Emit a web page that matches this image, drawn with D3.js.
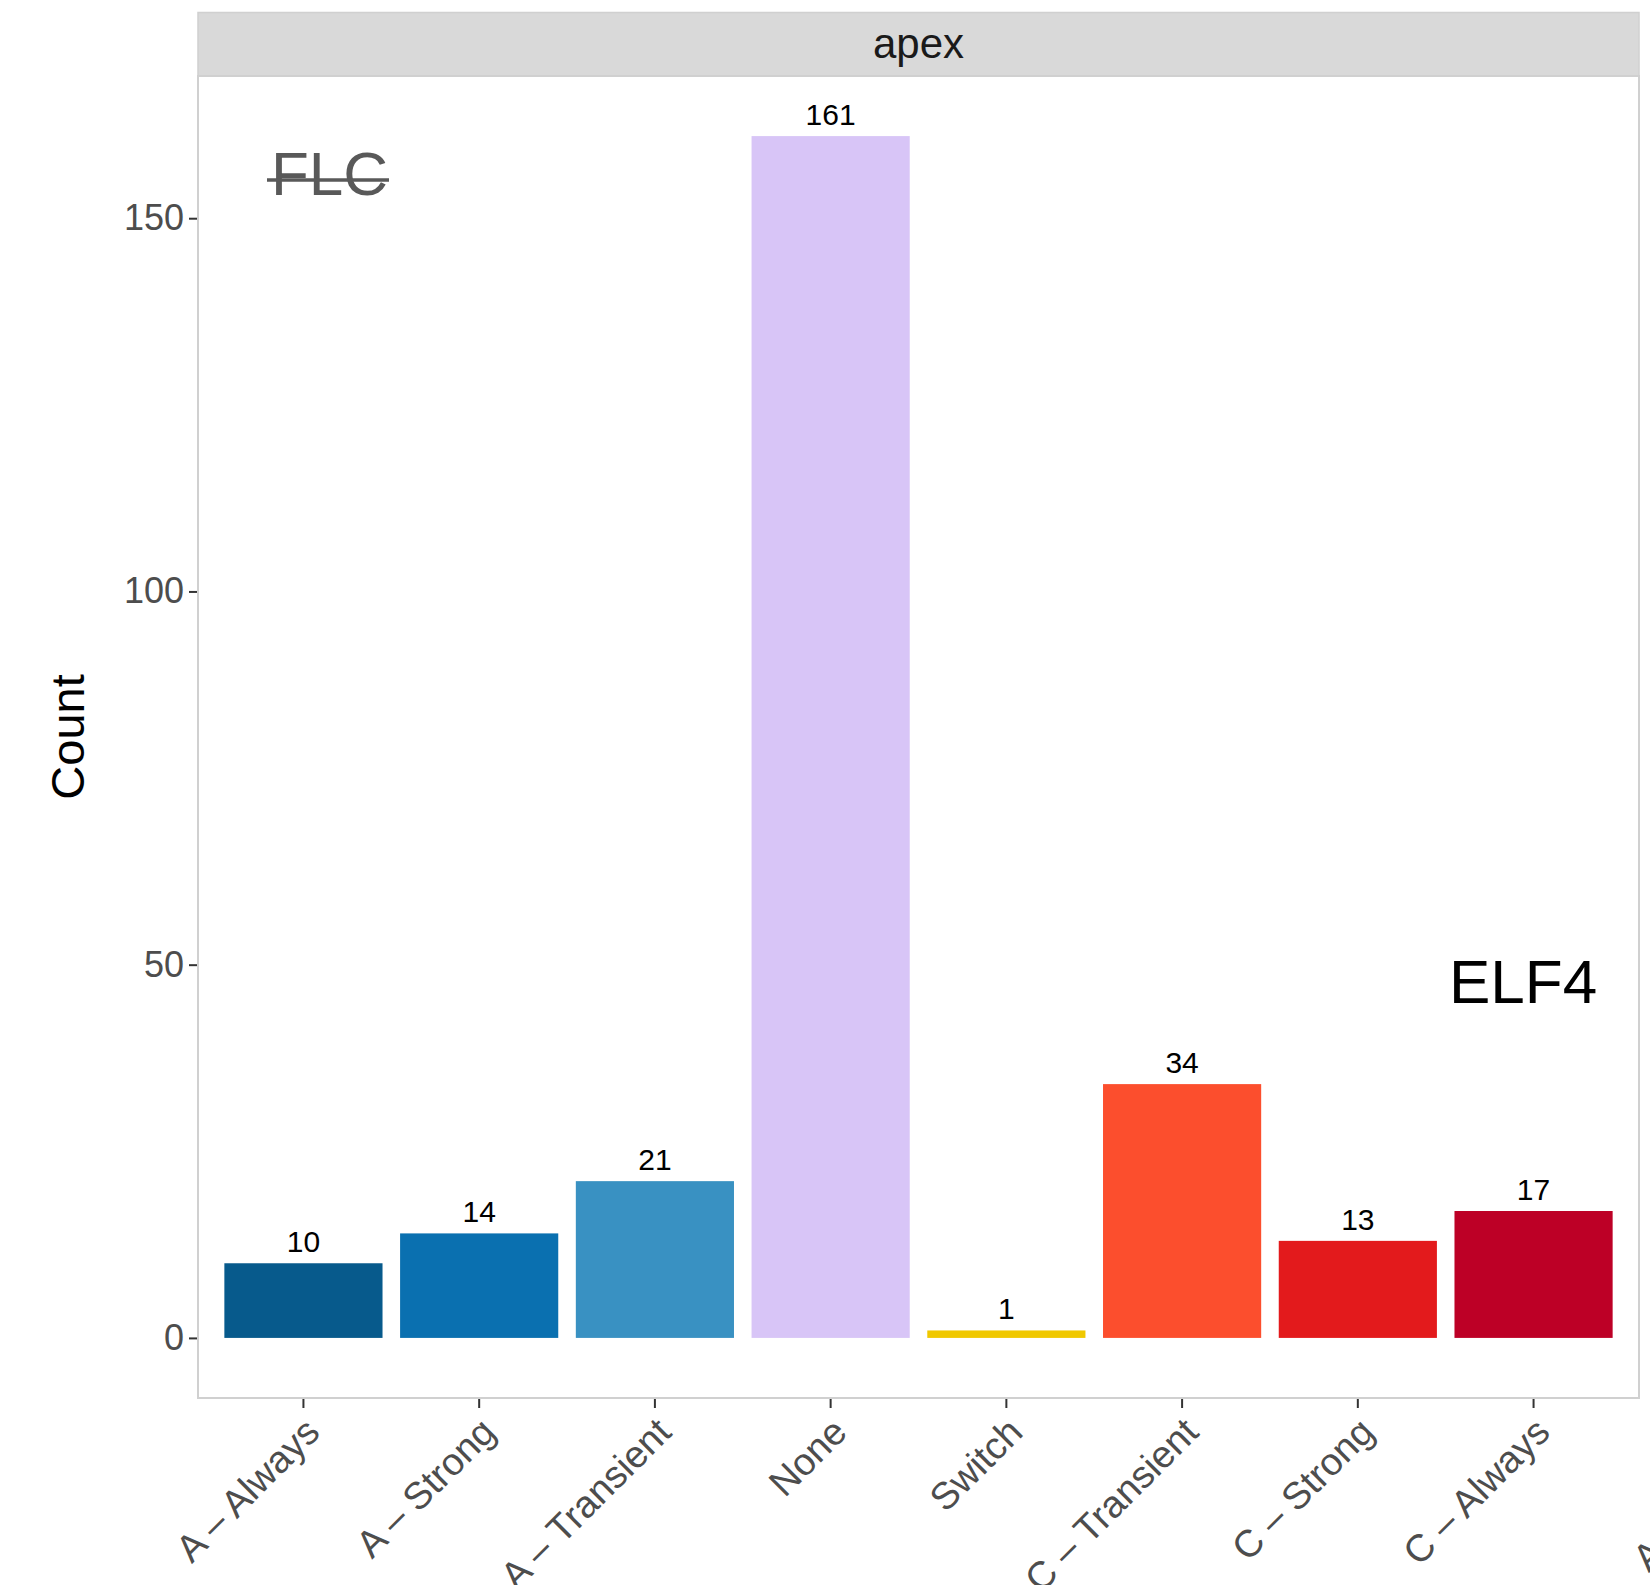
<!DOCTYPE html>
<html>
<head>
<meta charset="utf-8">
<script src="https://cdn.jsdelivr.net/npm/d3@7"></script>
<style>
  html, body { margin: 0; padding: 0; background: #ffffff; }
  svg { display: block; }
  text { font-family: "Liberation Sans", Arial, Helvetica, sans-serif; }
</style>
</head>
<body>
<svg id="chart" width="1650" height="1585"></svg>
<script>
// Response classes and how many genes fall into each (apex facet)
const categories = ["A – Always", "A – Strong", "A – Transient", "None", "Switch", "C – Transient", "C – Strong", "C – Always"];
const counts = [10, 14, 21, 161, 1, 34, 13, 17];
const barColors = ["#075a8c", "#0a70b0", "#3991c2", "#d8c5f7", "#f0c800", "#fc4e2d", "#e31a1c", "#bd0026"];
const yTicks = [0, 50, 100, 150];
const facetLabel = "apex";

const W = 1650, H = 1585;
const panel = { left: 198, right: 1639, top: 76, bottom: 1398 };
const strip = { top: 12.5, bottom: 76 };

const svg = d3.select("#chart");

// ggplot-style expansion: 5% on the continuous axis, 0.6 units on the discrete one
const maxVal = d3.max(counts);
const padY = maxVal * 0.05;
const y = d3.scaleLinear()
  .domain([-padY, maxVal + padY])
  .range([panel.bottom, panel.top]);

const x = d3.scaleBand()
  .domain(categories)
  .range([panel.left, panel.right])
  .paddingInner(0.1)
  .paddingOuter(0.15);

const data = categories.map((c, i) => ({ cat: c, value: counts[i], color: barColors[i] }));

// facet strip
svg.append("rect")
  .attr("x", panel.left).attr("y", strip.top)
  .attr("width", panel.right - panel.left).attr("height", strip.bottom - strip.top)
  .attr("fill", "#d9d9d9").attr("stroke", "#d0d0d0").attr("stroke-width", 1.5);
svg.append("text")
  .attr("x", (panel.left + panel.right) / 2).attr("y", 58)
  .attr("text-anchor", "middle")
  .attr("font-size", 42).attr("fill", "#1a1a1a")
  .text(facetLabel);

// panel background
svg.append("rect")
  .attr("x", panel.left).attr("y", panel.top)
  .attr("width", panel.right - panel.left).attr("height", panel.bottom - panel.top)
  .attr("fill", "#ffffff");

// bars
svg.append("g").selectAll("rect")
  .data(data).join("rect")
  .attr("x", d => x(d.cat))
  .attr("width", x.bandwidth())
  .attr("y", d => y(d.value))
  .attr("height", d => y(0) - y(d.value))
  .attr("fill", d => d.color);

// value labels above bars
svg.append("g").selectAll("text")
  .data(data).join("text")
  .attr("x", d => x(d.cat) + x.bandwidth() / 2)
  .attr("y", d => y(d.value) - 11)
  .attr("text-anchor", "middle")
  .attr("font-size", 30).attr("fill", "#000000")
  .text(d => d.value);

// panel border
svg.append("rect")
  .attr("x", panel.left).attr("y", panel.top)
  .attr("width", panel.right - panel.left).attr("height", panel.bottom - panel.top)
  .attr("fill", "none").attr("stroke", "#d0d0d0").attr("stroke-width", 2);

// y axis
const yAxis = d3.axisLeft(y).tickValues(yTicks).tickSize(8).tickPadding(5);
const gy = svg.append("g")
  .attr("transform", `translate(${panel.left - 1},0)`)
  .call(yAxis);
gy.select(".domain").remove();
gy.selectAll(".tick line").attr("stroke", "#333333").attr("stroke-width", 2);
gy.selectAll(".tick text")
  .attr("font-size", 36).attr("fill", "#4d4d4d")
  .attr("font-family", "Liberation Sans, Arial, sans-serif");

// x axis with 45° labels
const labelSize = 38;
const labelShift = "translate(-1,16) rotate(-45)";
const xAxis = d3.axisBottom(x).tickSize(9).tickSizeOuter(0);
const gx = svg.append("g")
  .attr("transform", `translate(0,${panel.bottom + 1})`)
  .call(xAxis);
gx.select(".domain").remove();
gx.selectAll(".tick line").attr("stroke", "#333333").attr("stroke-width", 2);
gx.selectAll(".tick text")
  .attr("font-size", labelSize).attr("fill", "#4d4d4d")
  .attr("font-family", "Liberation Sans, Arial, sans-serif")
  .attr("text-anchor", "end")
  .attr("x", 0).attr("y", 0).attr("dy", "0.72em")
  .attr("transform", labelShift);

// first label of the neighbouring facet, running off the right edge
const nextFacetOffset = 1457;
svg.append("g")
  .attr("transform", `translate(${x(categories[0]) + x.bandwidth() / 2 + nextFacetOffset},${panel.bottom + 1 + 9})`)
  .append("text")
  .attr("transform", labelShift)
  .attr("text-anchor", "end").attr("dy", "0.72em")
  .attr("font-size", labelSize).attr("fill", "#4d4d4d")
  .text(categories[0]);

// y axis title
svg.append("text")
  .attr("transform", `translate(84,${(panel.top + panel.bottom) / 2}) rotate(-90)`)
  .attr("text-anchor", "middle")
  .attr("font-size", 47).attr("fill", "#000000")
  .text("Count");

// gene annotations
const flc = svg.append("g");
flc.append("text")
  .attr("x", 271).attr("y", 195)
  .attr("font-size", 62).attr("fill", "#595959")
  .text("FLC");
flc.append("line")
  .attr("x1", 267).attr("x2", 389).attr("y1", 180).attr("y2", 180)
  .attr("stroke", "#595959").attr("stroke-width", 3.5);

svg.append("text")
  .attr("x", 1449).attr("y", 1003)
  .attr("font-size", 62).attr("fill", "#000000")
  .text("ELF4");
</script>
</body>
</html>
